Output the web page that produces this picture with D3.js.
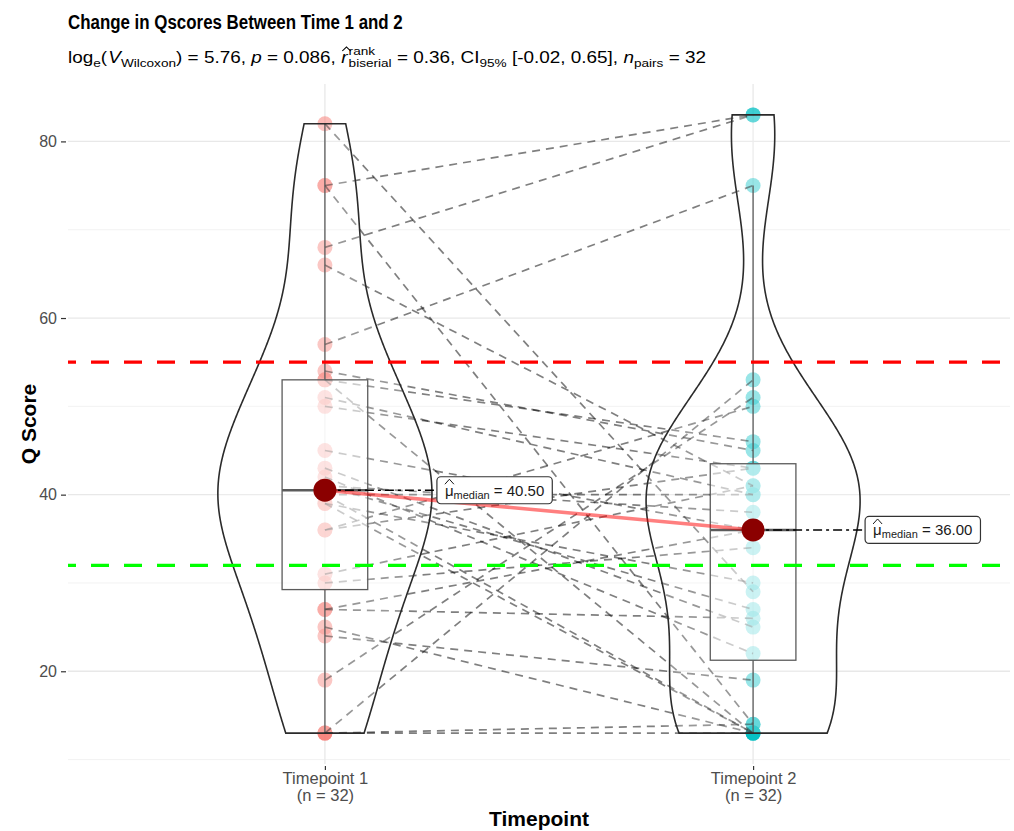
<!DOCTYPE html>
<html><head><meta charset="utf-8">
<script src="https://cdn.jsdelivr.net/npm/d3@7"></script>
<style>
body{margin:0;background:#fff}
text{font-family:"Liberation Sans", Arial, Helvetica, sans-serif; white-space:pre}
</style>
</head><body>
<svg id="chart" width="1014" height="831"></svg>
<script>
// ---------------- data ----------------
const categories = ["Timepoint 1", "Timepoint 2"];
const nLabels = ["(n = 32)", "(n = 32)"];
// paired scores: time1[i] is connected to time2[i]
const time1 = [82,75,75,68,66,57,13,13,13,19,54,53,53,51,50,40,45,42,43,41,36,36,39,40,39,31,41,30,27,27,25,24];
const time2 = [29,83,14,83,41,75,13,14,53,51,45,13,46,40,43,13,36,22,25,38,50,43,13,40,30,41,27,34,36,26,13,19];
const yTicks = [20, 40, 60, 80];
const refLines = [55, 32];
const refColors = ["#FF0000", "#00FF00"];
const pointColors = ["#F8766D", "#00BFC4"];
const titleText = "Change in Qscores Between Time 1 and 2";
const xTitle = "Timepoint";
const yTitle = "Q Score";

// ---------------- setup ----------------
const svg = d3.select("#chart");
const P = {left: 68, right: 1010, top: 84, bottom: 764};
const x = d3.scalePoint().domain(categories).range([P.left, P.right]).padding(0.6);
const all = time1.concat(time2);
const ext = d3.extent(all), pad = (ext[1] - ext[0]) * 0.05;
const y = d3.scaleLinear().domain([ext[0] - pad, ext[1] + pad]).range([P.bottom, P.top]);
const groups = [time1, time2];
const medians = groups.map(g => d3.median(g));

// ---------------- grid ----------------
const step = yTicks[1] - yTicks[0];
const minor = d3.range(yTicks[0] - step / 2, y.domain()[1], step).filter(v => v > y.domain()[0]);
const grid = svg.append("g");
grid.selectAll(".mn").data(minor).join("line")
  .attr("x1", P.left).attr("x2", P.right).attr("y1", d => y(d)).attr("y2", d => y(d))
  .attr("stroke", "#f0f0f0").attr("stroke-width", 0.9);
grid.selectAll(".mj").data(yTicks).join("line")
  .attr("x1", P.left).attr("x2", P.right).attr("y1", d => y(d)).attr("y2", d => y(d))
  .attr("stroke", "#e8e8e8").attr("stroke-width", 1.3);
grid.selectAll(".vx").data(categories).join("line")
  .attr("x1", d => x(d)).attr("x2", d => x(d)).attr("y1", P.top).attr("y2", P.bottom)
  .attr("stroke", "#e8e8e8").attr("stroke-width", 1.3);

// ---------------- axes ----------------
const yAxis = d3.axisLeft(y).tickValues(yTicks).tickSize(5).tickPadding(4);
const gy = svg.append("g").attr("transform", `translate(${P.left - 2},0)`).call(yAxis);
gy.select(".domain").remove();
gy.selectAll(".tick line").attr("stroke", "#333").attr("stroke-width", 1.2);
gy.selectAll(".tick text").attr("fill", "#4d4d4d").style("font-size", "16px");

const xAxis = d3.axisBottom(x).tickSize(4).tickPadding(6).tickFormat(() => "");
const gx = svg.append("g").attr("transform", `translate(0,${P.bottom + 2})`).call(xAxis);
gx.select(".domain").remove();
gx.selectAll(".tick line").attr("stroke", "#333").attr("stroke-width", 1.2);
gx.selectAll(".tick").each(function (d, i) {
  const t = d3.select(this).append("text").attr("fill", "#4d4d4d").attr("text-anchor", "middle")
    .style("font-size", "16.5px");
  t.append("tspan").attr("x", 0).attr("y", 18).text(d);
  t.append("tspan").attr("x", 0).attr("y", 35).text(nLabels[i]);
});

// ---------------- points ----------------
const gp = svg.append("g");
groups.forEach((arr, gi) => {
  gp.selectAll(".p" + gi).data(arr).join("circle")
    .attr("cx", x(categories[gi])).attr("cy", d => y(d)).attr("r", 7.5)
    .attr("fill", pointColors[gi]).attr("fill-opacity", 0.5);
});

// ---------------- paired paths ----------------
const pairs = time1.map((v, i) => [v, time2[i]]);
svg.append("g").selectAll("line").data(pairs).join("line")
  .attr("x1", x(categories[0])).attr("x2", x(categories[1]))
  .attr("y1", d => y(d[0])).attr("y2", d => y(d[1]))
  .attr("stroke", "#000").attr("stroke-opacity", 0.5).attr("stroke-width", 1.7)
  .attr("stroke-dasharray", "8,6");

// ---------------- boxplots ----------------
const bw = x.step() * 0.2 / 2;
const gb = svg.append("g");
groups.forEach((arr, gi) => {
  const s = arr.slice().sort(d3.ascending);
  const q1 = d3.quantileSorted(s, 0.25), q3 = d3.quantileSorted(s, 0.75);
  const iqr = q3 - q1;
  const hi = d3.max(s.filter(v => v <= q3 + 1.5 * iqr));
  const lo = d3.min(s.filter(v => v >= q1 - 1.5 * iqr));
  const cx = x(categories[gi]);
  gb.append("line").attr("x1", cx).attr("x2", cx).attr("y1", y(q3)).attr("y2", y(hi))
    .attr("stroke", "#333").attr("stroke-width", 1.3);
  gb.append("line").attr("x1", cx).attr("x2", cx).attr("y1", y(q1)).attr("y2", y(lo))
    .attr("stroke", "#333").attr("stroke-width", 1.3);
  gb.append("rect").attr("x", cx - bw).attr("width", 2 * bw)
    .attr("y", y(q3)).attr("height", y(q1) - y(q3))
    .attr("fill", "#fff").attr("fill-opacity", 0.5).attr("stroke", "#333").attr("stroke-width", 1.3);
  gb.append("line").attr("x1", cx - bw).attr("x2", cx + bw)
    .attr("y1", y(medians[gi])).attr("y2", y(medians[gi]))
    .attr("stroke", "#333").attr("stroke-width", 2.6);
});

// ---------------- violins ----------------
function bwNrd0(arr) {
  const s = arr.slice().sort(d3.ascending);
  const sd = d3.deviation(s);
  const iqr = d3.quantileSorted(s, 0.75) - d3.quantileSorted(s, 0.25);
  return 0.9 * Math.min(sd, iqr / 1.34) * Math.pow(s.length, -0.2);
}
function kde(arr) {
  const h = bwNrd0(arr), [a, b] = d3.extent(arr), n = 512, out = [];
  for (let i = 0; i < n; i++) {
    const v = a + (b - a) * i / (n - 1);
    let sum = 0;
    for (const d of arr) { const z = (v - d) / h; sum += Math.exp(-0.5 * z * z); }
    out.push([v, sum / (arr.length * h * Math.sqrt(2 * Math.PI))]);
  }
  return out;
}
const dens = groups.map(kde);
const maxD = d3.max(dens, d => d3.max(d, e => e[1]));
const vHalf = x.step() * 0.5 / 2;
const gv = svg.append("g");
dens.forEach((dd, gi) => {
  const cx = x(categories[gi]);
  const left = dd.map(e => [cx - e[1] / maxD * vHalf, y(e[0])]);
  const right = dd.slice().reverse().map(e => [cx + e[1] / maxD * vHalf, y(e[0])]);
  gv.append("path").attr("d", d3.line()(left.concat(right)) + "Z")
    .attr("fill", "#fff").attr("fill-opacity", 0.2)
    .attr("stroke", "#2b2b2b").attr("stroke-width", 1.6);
});

// ---------------- centrality ----------------
const gc = svg.append("g");
gc.append("line").attr("x1", x(categories[0])).attr("x2", x(categories[1]))
  .attr("y1", y(medians[0])).attr("y2", y(medians[1]))
  .attr("stroke", "#FF0000").attr("stroke-opacity", 0.5).attr("stroke-width", 3.6);
const labelOffset = 112;
const fmt = d3.format(".2f");
medians.forEach((m, gi) => {
  const cx = x(categories[gi]), cy = y(m);
  gc.append("line").attr("x1", cx).attr("x2", cx + labelOffset).attr("y1", cy).attr("y2", cy)
    .attr("stroke", "#000").attr("stroke-width", 1.6).attr("stroke-dasharray", "9,4,3,4");
  const lg = gc.append("g").attr("transform", `translate(${cx + labelOffset},${cy})`);
  const rect = lg.append("rect").attr("rx", 4).attr("ry", 4)
    .attr("fill", "#fff").attr("stroke", "#333").attr("stroke-width", 1.2);
  const t = lg.append("text").attr("x", 8).attr("y", 5.5).attr("fill", "#1a1a1a").style("font-size", "15px");
  t.append("tspan").text("\u03BC");
  t.append("tspan").attr("dy", 3).style("font-size", "11px").text("median");
  t.append("tspan").attr("dy", -3).text(" = " + fmt(m));
  const w = t.node().getComputedTextLength();
  rect.attr("x", 0).attr("y", -13.5).attr("width", w + 16).attr("height", 27);
  lg.append("path").attr("d", "M8,-6 L12.5,-11 L17,-6").attr("fill", "none")
    .attr("stroke", "#1a1a1a").attr("stroke-width", 1);
});
gc.selectAll(".md").data(medians).join("circle")
  .attr("cx", (d, i) => x(categories[i])).attr("cy", d => y(d)).attr("r", 11.5)
  .attr("fill", "#8B0000");

// ---------------- reference lines ----------------
svg.append("g").selectAll("line").data(refLines).join("line")
  .attr("x1", P.left).attr("x2", P.right).attr("y1", d => y(d)).attr("y2", d => y(d))
  .attr("stroke", (d, i) => refColors[i]).attr("stroke-width", 3.2)
  .attr("stroke-dasharray", "18,15").attr("stroke-dashoffset", 10);

// ---------------- titles ----------------
const title = svg.append("text").attr("x", 68).attr("y", 29)
  .style("font-size", "21px").style("font-weight", "bold").attr("fill", "#000").text(titleText);
{
  const w = title.node().getComputedTextLength();
  title.attr("transform", `translate(68,0) scale(${335 / w},1) translate(-68,0)`);
}

// subtitle built from pieces
const sub = svg.append("g");
const base = 63, fs = 16, fsS = 11.5;
let cur = 68;
function piece(txt, opt = {}) {
  const size = opt.size || fs;
  const t = sub.append("text").attr("x", cur).attr("y", base + (opt.dy || 0))
    .style("font-size", size + "px").style("font-style", opt.italic ? "italic" : "normal")
    .attr("fill", "#000").text(txt);
  const w = t.node().getComputedTextLength();
  if (!opt.noAdvance) cur += w + (opt.extra || 0);
  return {t, w};
}
piece("log");
piece("e", {size: fsS, dy: 4});
piece("(", {extra: 1});
piece("V", {italic: true});
piece("Wilcoxon", {size: fsS, dy: 4});
piece(")");
piece(" = 5.76, ");
piece("p", {italic: true});
piece(" = 0.086, ");
const rx = cur;
piece("r", {italic: true, extra: 1});
sub.append("path").attr("d", `M${rx + 1},${base - 12} L${rx + 4.5},${base - 16} L${rx + 8},${base - 12}`)
  .attr("fill", "none").attr("stroke", "#000").attr("stroke-width", 1);
const sx = cur;
const a = piece("rank", {size: fsS, dy: -8, noAdvance: true});
const b = piece("biserial", {size: fsS, dy: 4, noAdvance: true});
cur = sx + Math.max(a.w, b.w);
piece(" = 0.36, CI");
piece("95%", {size: fsS, dy: 4});
piece(" [-0.02, 0.65], ");
piece("n", {italic: true});
piece("pairs", {size: fsS, dy: 4});
piece(" = 32");
const subW = cur - 68;
sub.attr("transform", `translate(68,0) scale(${638 / subW},1) translate(-68,0)`);

svg.append("text").attr("x", (P.left + P.right) / 2).attr("y", 826).attr("text-anchor", "middle")
  .style("font-size", "21px").style("font-weight", "bold").text(xTitle);
svg.append("text").attr("transform", `translate(36,${(P.top + P.bottom) / 2}) rotate(-90)`)
  .attr("text-anchor", "middle").style("font-size", "21px").style("font-weight", "bold").text(yTitle);
</script>
</body></html>
